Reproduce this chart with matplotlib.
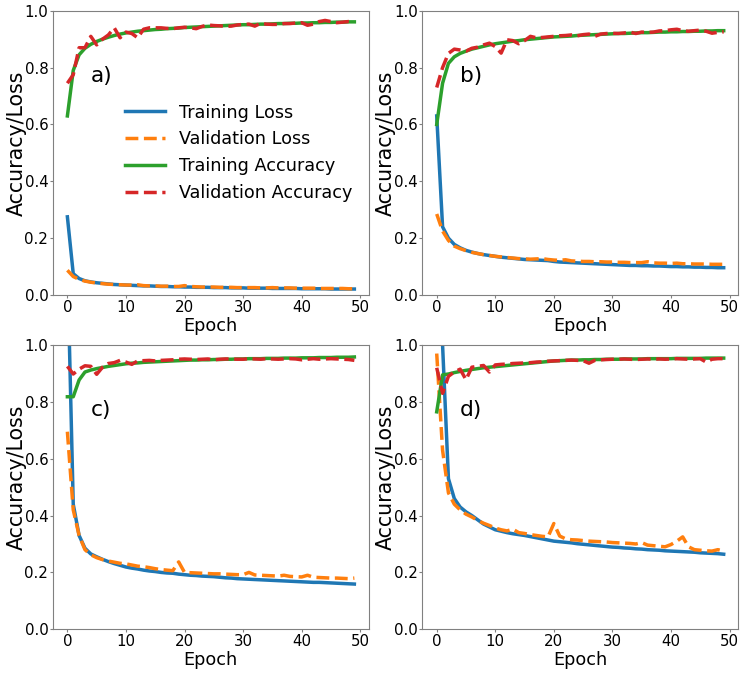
import numpy as np
import matplotlib
matplotlib.use('Agg')
import matplotlib.pyplot as plt

epochs = list(range(50))

# panel a
a_train_loss = [0.275, 0.075, 0.058, 0.050, 0.046, 0.043, 0.041, 0.039, 0.037, 0.036, 0.035, 0.034, 0.033, 0.032, 0.032, 0.031, 0.030, 0.030, 0.029, 0.029,
                0.028, 0.028, 0.027, 0.027, 0.027, 0.026, 0.026, 0.026, 0.025, 0.025, 0.025, 0.024, 0.024, 0.024, 0.024, 0.023, 0.023, 0.023, 0.023, 0.023,
                0.022, 0.022, 0.022, 0.022, 0.022, 0.021, 0.021, 0.021, 0.021, 0.021]
a_val_loss = [0.087, 0.065, 0.055, 0.049, 0.045, 0.042, 0.040, 0.038, 0.037, 0.036, 0.035, 0.035, 0.036, 0.033, 0.032, 0.032, 0.031, 0.031, 0.030, 0.030,
              0.033, 0.030, 0.029, 0.028, 0.028, 0.028, 0.027, 0.027, 0.027, 0.026, 0.026, 0.026, 0.026, 0.025, 0.025, 0.026, 0.025, 0.025, 0.025, 0.024,
              0.024, 0.024, 0.024, 0.023, 0.023, 0.023, 0.023, 0.023, 0.022, 0.022]
a_train_acc = [0.63, 0.79, 0.845, 0.868, 0.882, 0.892, 0.900, 0.907, 0.913, 0.918, 0.922, 0.925, 0.928, 0.930, 0.932, 0.934, 0.935, 0.937, 0.938, 0.939,
               0.941, 0.942, 0.943, 0.944, 0.945, 0.946, 0.947, 0.948, 0.949, 0.950, 0.951, 0.951, 0.952, 0.953, 0.953, 0.954, 0.955, 0.955, 0.956, 0.956,
               0.957, 0.957, 0.958, 0.958, 0.959, 0.959, 0.960, 0.960, 0.961, 0.961]
a_val_acc = [0.745, 0.775, 0.870, 0.870, 0.910, 0.880, 0.900, 0.915, 0.940, 0.905, 0.925, 0.920, 0.905, 0.935, 0.940, 0.940, 0.940, 0.938, 0.937, 0.940,
             0.942, 0.940, 0.937, 0.945, 0.950, 0.948, 0.947, 0.945, 0.946, 0.950, 0.952, 0.953, 0.946, 0.956, 0.953, 0.952, 0.952, 0.955, 0.955, 0.957,
             0.958, 0.949, 0.953, 0.962, 0.966, 0.962, 0.958, 0.960, 0.962, 0.961]

# panel b
b_train_loss = [0.63, 0.24, 0.20, 0.178, 0.166, 0.157, 0.151, 0.146, 0.142, 0.139, 0.136, 0.133, 0.131, 0.129, 0.127, 0.125, 0.124, 0.123, 0.122, 0.121,
                0.118, 0.116, 0.115, 0.114, 0.113, 0.112, 0.111, 0.110, 0.109, 0.108, 0.107, 0.106, 0.105, 0.104, 0.104, 0.103, 0.103, 0.102, 0.102, 0.101,
                0.100, 0.100, 0.099, 0.099, 0.098, 0.098, 0.097, 0.097, 0.096, 0.096]
b_val_loss = [0.285, 0.225, 0.192, 0.172, 0.163, 0.156, 0.150, 0.146, 0.142, 0.139, 0.136, 0.134, 0.132, 0.130, 0.128, 0.127, 0.126, 0.127, 0.128, 0.125,
              0.123, 0.122, 0.124, 0.120, 0.119, 0.118, 0.118, 0.117, 0.117, 0.116, 0.116, 0.115, 0.115, 0.114, 0.114, 0.114, 0.117, 0.113, 0.112, 0.112,
              0.111, 0.112, 0.110, 0.110, 0.109, 0.109, 0.109, 0.108, 0.108, 0.108]
b_train_acc = [0.60, 0.745, 0.815, 0.838, 0.850, 0.858, 0.865, 0.870, 0.875, 0.880, 0.884, 0.887, 0.890, 0.893, 0.895, 0.898, 0.900, 0.902, 0.904, 0.906,
               0.908, 0.909, 0.910, 0.911, 0.913, 0.914, 0.915, 0.916, 0.917, 0.918, 0.919, 0.920, 0.920, 0.921, 0.922, 0.923, 0.923, 0.924, 0.925, 0.925,
               0.926, 0.926, 0.927, 0.927, 0.928, 0.928, 0.929, 0.929, 0.930, 0.930]
b_val_acc = [0.73, 0.80, 0.85, 0.865, 0.862, 0.858, 0.868, 0.872, 0.880, 0.886, 0.874, 0.851, 0.898, 0.895, 0.884, 0.895, 0.910, 0.905, 0.906, 0.908,
             0.910, 0.912, 0.913, 0.915, 0.912, 0.916, 0.918, 0.910, 0.918, 0.920, 0.921, 0.920, 0.922, 0.925, 0.920, 0.925, 0.924, 0.925, 0.929, 0.930,
             0.933, 0.935, 0.930, 0.928, 0.930, 0.932, 0.928, 0.921, 0.924, 0.926]

# panel c
c_train_loss = [1.3, 0.44, 0.33, 0.285, 0.265, 0.255, 0.246, 0.238, 0.231, 0.225, 0.219, 0.215, 0.212, 0.208, 0.205, 0.203, 0.200, 0.198, 0.197, 0.194,
                0.192, 0.190, 0.189, 0.187, 0.186, 0.185, 0.183, 0.181, 0.180, 0.178, 0.177, 0.176, 0.175, 0.174, 0.173, 0.172, 0.171, 0.170, 0.169, 0.168,
                0.167, 0.166, 0.165, 0.165, 0.164, 0.163, 0.162, 0.161, 0.160, 0.159]
c_val_loss = [0.695, 0.42, 0.33, 0.28, 0.262, 0.252, 0.245, 0.240, 0.236, 0.232, 0.230, 0.226, 0.222, 0.220, 0.217, 0.213, 0.210, 0.208, 0.206, 0.237,
              0.200, 0.199, 0.198, 0.197, 0.196, 0.195, 0.195, 0.194, 0.193, 0.192, 0.192, 0.200, 0.191, 0.190, 0.189, 0.188, 0.187, 0.190, 0.186, 0.185,
              0.184, 0.190, 0.183, 0.182, 0.181, 0.180, 0.180, 0.179, 0.178, 0.180]
c_train_acc = [0.818, 0.818, 0.877, 0.905, 0.912, 0.917, 0.921, 0.925, 0.928, 0.931, 0.934, 0.936, 0.937, 0.939, 0.940, 0.941, 0.942, 0.943, 0.944, 0.945,
               0.946, 0.947, 0.947, 0.948, 0.948, 0.949, 0.949, 0.950, 0.950, 0.951, 0.951, 0.952, 0.952, 0.952, 0.953, 0.953, 0.953, 0.954, 0.954, 0.954,
               0.955, 0.955, 0.955, 0.956, 0.956, 0.956, 0.957, 0.957, 0.957, 0.958]
c_val_acc = [0.925, 0.898, 0.915, 0.927, 0.925, 0.897, 0.922, 0.935, 0.938, 0.946, 0.940, 0.932, 0.944, 0.945, 0.946, 0.944, 0.946, 0.947, 0.948, 0.950,
             0.951, 0.950, 0.949, 0.950, 0.951, 0.948, 0.950, 0.951, 0.951, 0.950, 0.950, 0.952, 0.951, 0.950, 0.952, 0.951, 0.950, 0.951, 0.952, 0.951,
             0.948, 0.950, 0.952, 0.950, 0.951, 0.952, 0.951, 0.950, 0.949, 0.946]

# panel d
d_train_loss = [1.5, 1.0, 0.53, 0.46, 0.43, 0.413, 0.400, 0.385, 0.370, 0.360, 0.350, 0.345, 0.340, 0.336, 0.333, 0.330, 0.326, 0.322, 0.318, 0.314,
                0.310, 0.308, 0.306, 0.304, 0.301, 0.299, 0.297, 0.295, 0.293, 0.291, 0.289, 0.288, 0.286, 0.285, 0.283, 0.282, 0.280, 0.279, 0.278, 0.276,
                0.275, 0.274, 0.273, 0.272, 0.271, 0.269, 0.268, 0.267, 0.266, 0.264]
d_val_loss = [0.97, 0.63, 0.48, 0.44, 0.42, 0.405, 0.395, 0.383, 0.373, 0.365, 0.356, 0.350, 0.346, 0.352, 0.340, 0.337, 0.333, 0.330, 0.327, 0.325,
              0.372, 0.328, 0.318, 0.315, 0.314, 0.312, 0.310, 0.309, 0.308, 0.307, 0.305, 0.304, 0.303, 0.302, 0.300, 0.305, 0.296, 0.294, 0.292, 0.290,
              0.298, 0.310, 0.325, 0.290, 0.280, 0.278, 0.276, 0.275, 0.280, 0.275]
d_train_acc = [0.765, 0.895, 0.898, 0.903, 0.907, 0.911, 0.914, 0.917, 0.920, 0.922, 0.924, 0.926, 0.928, 0.930, 0.932, 0.934, 0.936, 0.938, 0.940, 0.942,
               0.944, 0.945, 0.946, 0.947, 0.947, 0.948, 0.948, 0.949, 0.949, 0.950, 0.950, 0.950, 0.951, 0.951, 0.951, 0.951, 0.952, 0.952, 0.952, 0.952,
               0.952, 0.953, 0.953, 0.953, 0.953, 0.953, 0.954, 0.954, 0.954, 0.954]
d_val_acc = [0.92, 0.83, 0.89, 0.905, 0.915, 0.878, 0.922, 0.925, 0.928, 0.905, 0.930, 0.932, 0.933, 0.935, 0.936, 0.937, 0.938, 0.940, 0.941, 0.943,
             0.944, 0.945, 0.946, 0.947, 0.946, 0.945, 0.936, 0.946, 0.948, 0.949, 0.950, 0.950, 0.951, 0.950, 0.949, 0.950, 0.951, 0.950, 0.951, 0.950,
             0.951, 0.952, 0.951, 0.950, 0.951, 0.952, 0.940, 0.950, 0.952, 0.952]

panels = [('a)', a_train_loss, a_val_loss, a_train_acc, a_val_acc),
          ('b)', b_train_loss, b_val_loss, b_train_acc, b_val_acc),
          ('c)', c_train_loss, c_val_loss, c_train_acc, c_val_acc),
          ('d)', d_train_loss, d_val_loss, d_train_acc, d_val_acc)]

fig, axes = plt.subplots(2, 2, figsize=(7.47, 6.73), dpi=100)
fig.subplots_adjust(left=0.071, right=0.988, top=0.984, bottom=0.065, wspace=0.17, hspace=0.176)

for ax, (tag, tl, vl, ta, va) in zip(axes.flat, panels):
    ax.plot(epochs, tl, color='tab:blue', lw=2.5, label='Training Loss')
    ax.plot(epochs, vl, color='tab:orange', lw=2.5, ls='--', label='Validation Loss')
    ax.plot(epochs, ta, color='tab:green', lw=2.5, label='Training Accuracy')
    ax.plot(epochs, va, color='tab:red', lw=2.5, ls='--', label='Validation Accuracy')
    ax.set_ylim(0, 1.0)
    ax.set_xticks([0, 10, 20, 30, 40, 50])
    ax.set_yticks([0.0, 0.2, 0.4, 0.6, 0.8, 1.0])
    ax.tick_params(labelsize=10.8, color='0.5', length=2.2, pad=1.2)
    for s in ax.spines.values():
        s.set_color('0.5')
    ax.set_xlabel('Epoch', fontsize=12.7, labelpad=1.5)
    ax.set_ylabel('Accuracy/Loss', fontsize=14.8)
    # label sits a bit above the axes centre in the original
    ax.yaxis.set_label_coords(-0.083, 0.533)
    ax.text(0.12, 0.75, tag, transform=ax.transAxes, fontsize=15.6)

axes[0, 0].legend(loc='center right', frameon=False, fontsize=12.7, handlelength=2.3)

plt.savefig('out.png', dpi=100)
